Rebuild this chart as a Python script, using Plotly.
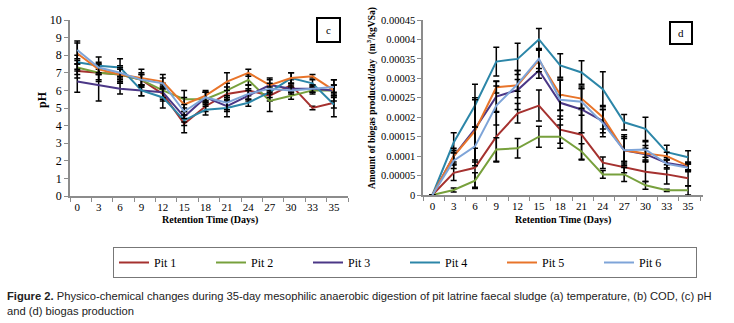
import plotly.graph_objects as go

days = ["0", "3", "6", "9", "12", "15", "18", "21", "24", "27", "30", "33", "35"]
pits = ["Pit 1", "Pit 2", "Pit 3", "Pit 4", "Pit 5", "Pit 6"]
colors = ["#A5312F", "#77A03C", "#4B3786", "#2C86A8", "#E8742A", "#7EA4D8"]

# pH (panel c)
ph_pit1 = [7.1, 7.0, 6.9, 6.6, 5.8, 4.1, 5.1, 5.8, 6.0, 5.7, 6.3, 5.0, 5.3]
ph_pit2 = [7.3, 7.0, 6.9, 6.6, 6.0, 5.5, 5.5, 6.0, 6.6, 5.4, 5.7, 6.0, 6.0]
ph_pit3 = [6.5, 6.3, 6.1, 6.0, 5.9, 4.5, 5.6, 5.1, 5.7, 6.3, 6.1, 6.1, 6.0]
ph_pit4 = [7.6, 7.4, 7.3, 6.0, 5.6, 4.3, 4.9, 5.0, 5.3, 5.9, 6.7, 6.4, 5.2]
ph_pit5 = [8.1, 7.2, 6.9, 6.7, 6.5, 5.2, 5.7, 6.5, 7.0, 6.3, 6.7, 6.8, 6.0]
ph_pit6 = [8.3, 7.3, 7.0, 6.6, 6.4, 4.8, 5.6, 5.3, 5.8, 6.1, 6.0, 6.1, 6.2]

ph_err1 = [0.4, 0.4, 0.4, 0.3, 0.4, 0.5, 0.3, 0.4, 0.3, 0.3, 0.3, 0.1, 0.3]
ph_err2 = [0.4, 0.5, 0.5, 0.4, 0.4, 0.5, 0.4, 0.4, 0.3, 0.6, 0.2, 0.2, 0.3]
ph_err3 = [0.6, 0.9, 0.3, 0.3, 0.4, 0.3, 0.3, 0.3, 0.3, 0.3, 0.2, 0.2, 0.3]
ph_err4 = [0.4, 0.5, 0.5, 0.3, 0.6, 0.3, 0.3, 0.5, 0.2, 0.3, 0.3, 0.2, 0.7]
ph_err5 = [0.6, 0.3, 0.3, 0.5, 0.4, 0.4, 0.3, 0.5, 0.2, 0.4, 0.3, 0.1, 0.6]
ph_err6 = [0.5, 0.3, 0.3, 0.3, 0.3, 0.4, 0.3, 0.4, 0.3, 0.3, 0.2, 0.2, 0.4]

# Biogas (panel d), m3/kgVSa
gas_pit1 = [0, 0.000057, 0.000070, 0.000150, 0.000210, 0.000230, 0.000168, 0.000155, 0.000083, 0.000072, 0.000060, 0.000053, 0.000043]
gas_pit2 = [0, 0.000013, 0.000037, 0.000117, 0.000120, 0.000150, 0.000150, 0.000112, 0.000053, 0.000053, 0.000025, 0.000012, 0.000012]
gas_pit3 = [0, 0.000100, 0.000170, 0.000253, 0.000270, 0.000320, 0.000237, 0.000220, 0.000190, 0.000115, 0.000105, 0.000082, 0.000073]
gas_pit4 = [0, 0.000135, 0.000230, 0.000343, 0.000350, 0.000400, 0.000333, 0.000315, 0.000272, 0.000187, 0.000170, 0.000110, 0.000097]
gas_pit5 = [0, 0.000100, 0.000165, 0.000277, 0.000282, 0.000347, 0.000258, 0.000248, 0.000200, 0.000115, 0.000107, 0.000100, 0.000075]
gas_pit6 = [0, 0.000088, 0.000125, 0.000230, 0.000285, 0.000350, 0.000245, 0.000240, 0.000185, 0.000115, 0.000117, 0.000080, 0.000070]

gas_err1 = [0, 0.000020, 0.000050, 0.000065, 0.000025, 0.000040, 0.000035, 0.000065, 0.000015, 0.000015, 0.000025, 0.000025, 0.000020]
gas_err2 = [0, 0.000005, 0.000020, 0.000030, 0.000025, 0.000027, 0.000030, 0.000020, 0.000010, 0.000018, 0.000010, 0.000003, 0.000012]
gas_err3 = [0, 0.000015, 0.000080, 0.000040, 0.000050, 0.000020, 0.000020, 0.000060, 0.000030, 0.000040, 0.000015, 0.000015, 0.000010]
gas_err4 = [0, 0.000025, 0.000055, 0.000037, 0.000040, 0.000028, 0.000030, 0.000030, 0.000045, 0.000020, 0.000030, 0.000018, 0.000017]
gas_err5 = [0, 0.000020, 0.000080, 0.000015, 0.000015, 0.000030, 0.000040, 0.000025, 0.000030, 0.000030, 0.000020, 0.000010, 0.000010]
gas_err6 = [0, 0.000020, 0.000050, 0.000050, 0.000035, 0.000025, 0.000050, 0.000035, 0.000035, 0.000035, 0.000020, 0.000010, 0.000010]

gas_ticks = [0, 0.00005, 0.0001, 0.00015, 0.0002, 0.00025, 0.0003, 0.00035, 0.0004, 0.00045]
gas_ticktext = ["0", "0.00005", "0.0001", "0.00015", "0.0002", "0.00025", "0.0003", "0.00035", "0.0004", "0.00045"]

ph_series = [ph_pit1, ph_pit2, ph_pit3, ph_pit4, ph_pit5, ph_pit6]
ph_errs = [ph_err1, ph_err2, ph_err3, ph_err4, ph_err5, ph_err6]
gas_series = [gas_pit1, gas_pit2, gas_pit3, gas_pit4, gas_pit5, gas_pit6]
gas_errs = [gas_err1, gas_err2, gas_err3, gas_err4, gas_err5, gas_err6]

W, H = 734, 323
idx = list(range(len(days)))
SERIF = "Liberation Serif, Times New Roman, serif"

fig = go.Figure()
for name, col, ys, es in zip(pits, colors, ph_series, ph_errs):
    fig.add_trace(go.Scatter(
        x=idx, y=ys, name=name, mode="lines", line=dict(color=col, width=2),
        error_y=dict(type="data", array=es, visible=True, color="black", thickness=1.5, width=3),
        xaxis="x", yaxis="y", showlegend=True))
for name, col, ys, es in zip(pits, colors, gas_series, gas_errs):
    fig.add_trace(go.Scatter(
        x=idx, y=ys, name=name, mode="lines", line=dict(color=col, width=2),
        error_y=dict(type="data", array=es, visible=True, color="black", thickness=1.5, width=3),
        xaxis="x2", yaxis="y2", showlegend=False))

axcol = "#8c8c8c"
def xax(domain, rng, off, anchor):
    return dict(domain=domain, range=rng, tickvals=idx, ticktext=days, ticks="", anchor=anchor,
                showline=True, linecolor=axcol, linewidth=1.5, showgrid=False, zeroline=False,
                automargin=False,
                tickfont=dict(family=SERIF, size=11, color="black"),
                minor=dict(tickvals=[i + off for i in range(len(days) + 1)], ticks="outside",
                           ticklen=4, tickcolor=axcol, tickwidth=1.2, showgrid=False))

fig.update_layout(
    width=W, height=H, margin=dict(l=0, r=0, t=0, b=0, autoexpand=False),
    paper_bgcolor="white", plot_bgcolor="white",
    xaxis=xax([70 / W, 348 / W], [-0.34, 12.66], -0.34, "y"),
    yaxis=dict(domain=[1 - 196 / H, 1 - 20 / H], range=[0, 10], dtick=1, ticks="outside", ticklen=4,
               tickcolor=axcol, showline=True, linecolor=axcol, linewidth=1.5, showgrid=False,
               zeroline=False, automargin=False, anchor="x",
               tickfont=dict(family=SERIF, size=12, color="black")),
    xaxis2=xax([423 / W, 703 / W], [-0.44, 12.7], -0.44, "y2"),
    yaxis2=dict(domain=[1 - 195 / H, 1 - 20 / H], range=[0, 0.00045], tickvals=gas_ticks,
                ticktext=gas_ticktext, ticks="outside", ticklen=4, tickcolor=axcol, showline=True,
                linecolor=axcol, linewidth=1.5, showgrid=False, zeroline=False, automargin=False,
                anchor="x2", tickfont=dict(family=SERIF, size=10.5, color="black")),
    legend=dict(orientation="h", x=113 / W, y=1 - 247 / H, xanchor="left", yanchor="top",
                bordercolor="#777777", borderwidth=1, entrywidth=52, entrywidthmode="pixels",
                font=dict(family=SERIF, size=12, color="black"), itemwidth=30,
                tracegroupgap=0),
)

def note(text, x, y, size, family=SERIF, xanchor="center", angle=0, **kw):
    return dict(text=text, x=x / W, y=1 - y / H, xref="paper", yref="paper", showarrow=False,
                xanchor=xanchor, yanchor="middle", textangle=angle,
                font=dict(family=family, size=size, color=kw.pop("color", "black")), **kw)

ann = [
    note("c", 328, 30, 11, bordercolor="black", borderwidth=2, width=19, height=20, bgcolor="white"),
    note("d", 681, 33, 11, bordercolor="black", borderwidth=2, width=18, height=18, bgcolor="white"),
    note("<b>pH</b>", 42, 100, 12, angle=-90),
    note("<b>Amount of biogas produced/day  (m<sup>3</sup>/kgVSa)</b>", 372, 98, 9.5, angle=-90),
    note("<b>Retention Time (Days)</b>", 210, 220, 10),
    note("<b>Retention Time (Days)</b>", 563, 220, 10),
]
CAP = "Liberation Sans, Arial, sans-serif"
ann.append(note("<b>Figure 2.</b> Physico-chemical changes during 35-day mesophilic anaerobic digestion of pit latrine faecal sludge (a) temperature, (b) COD, (c) pH",
                5, 296, 11.2, family=CAP, xanchor="left", color="#222222"))
ann.append(note("and (d) biogas production", 5, 311, 11.2, family=CAP, xanchor="left", color="#222222"))
fig.update_layout(annotations=ann)

fig.write_html("out.html", config={"displayModeBar": False},
               post_script="document.body.style.margin='0';document.body.style.overflow='hidden';")
